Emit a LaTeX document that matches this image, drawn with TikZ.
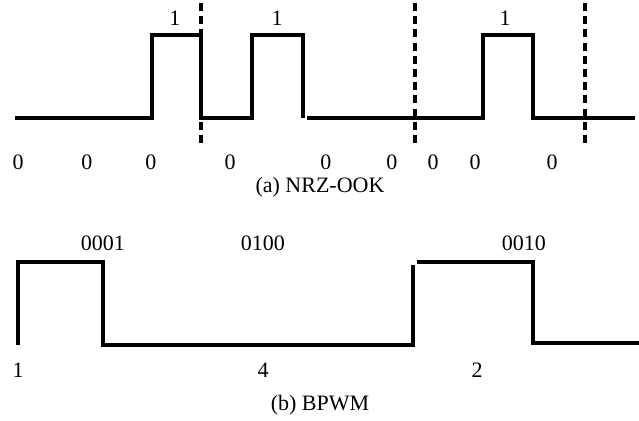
\documentclass[tikz,border=0pt]{standalone}
\usepackage{fontspec}
\setmainfont{Liberation Serif}
\usepackage{tikz}
\usetikzlibrary{positioning}

\begin{document}
\begin{tikzpicture}[x=0.5pt, y=-0.5pt,
every node/.style={font=\fontsize{11}{13}\selectfont, inner sep=0pt},
wave/.style={line width=1.7pt, line join=miter},
slot/.style={line width=1.6pt, dash pattern=on 4pt off 2.6pt}]
\useasboundingbox (0,0) rectangle (639,420);
% (a) NRZ-OOK
\draw[slot] (201,3) -- (201,143);
\draw[slot] (415,3) -- (415,145);
\draw[slot] (585,3) -- (585,145);
\draw[wave] (15,118) -- (152,118) -- (152,35) -- (201,35) -- (201,118) -- (252,118) -- (252,35) -- (303,35) -- (303,118);
\draw[wave] (307,118) -- (483,118) -- (483,35) -- (533,35) -- (533,118) -- (635,118);
\foreach \x/\n in {175/a1, 277/a2, 505/a3}
  \node (\n) at (\x,18) {1};
\foreach \x/\n in {18/z1, 87/z2, 151/z3, 230/z4, 326/z5, 392/z6, 433/z7, 475/z8, 552/z9}
  \node (\n) at (\x,162) {0};
\node (capa) at (320,187) {(a) NRZ-OOK};
% (b) BPWM
\draw[wave] (18,345) -- (18,262) -- (103,262) -- (103,345) -- (413,345) -- (413,265);
\draw[wave] (417,262) -- (533,262) -- (533,343) -- (639,343);
\node (b1) at (103,243) {0001};
\node (b2) at (263,243) {0100};
\node (b3) at (524,243) {0010};
\node (n1) at (18,370) {1};
\node (n4) at (263,370) {4};
\node (n2) at (477,370) {2};
\node (capb) at (320,405) {(b) BPWM};
\end{tikzpicture}
\end{document}
